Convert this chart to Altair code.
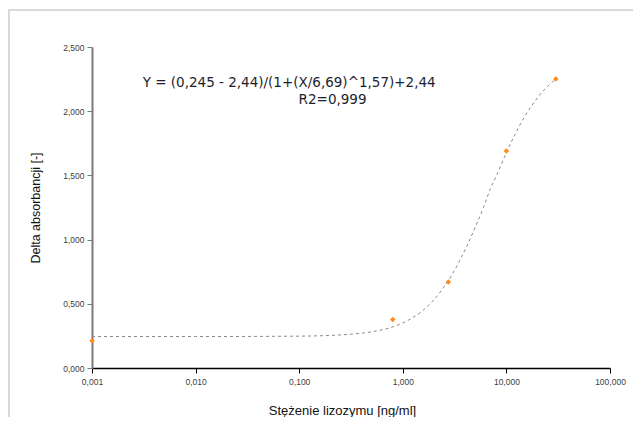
import altair as alt
import pandas as pd

# measured points
conc = [0.001, 0.8, 2.75, 10.0, 30.0]
absorb = [0.213, 0.377, 0.669, 1.69, 2.25]

# dashed fitted curve
curve_x = [0.001, 0.01, 0.1, 0.3, 0.5, 0.8, 1, 1.5, 2, 3, 4, 5, 6, 7, 8, 10, 12, 15, 20, 25, 30]
curve_y = [0.245, 0.245, 0.248, 0.262, 0.282, 0.32, 0.351, 0.437, 0.532, 0.73, 0.922,
           1.096, 1.249, 1.396, 1.496, 1.678, 1.813, 1.958, 2.106, 2.194, 2.25]

x_ticks = [0.001, 0.01, 0.1, 1, 10, 100]
y_ticks = [0, 0.5, 1.0, 1.5, 2.0, 2.5]

eq_text = ["Y = (0,245 - 2,44)/(1+(X/6,69)^1,57)+2,44", "R2=0,999"]
eq_x = [0.08, 0.21]
eq_y = [2.22, 2.085]

W, H = 518, 321
PAD = {"left": 84, "top": 39, "right": 23, "bottom": 49}

pts = pd.DataFrame({"x": conc, "y": absorb})
crv = pd.DataFrame({"x": curve_x, "y": curve_y})
ann = pd.DataFrame({"x": eq_x, "y": eq_y, "t": eq_text})

fmt = "replace(format(datum.value, '.3f'), '.', ',')"

xscale = alt.Scale(type="log", domain=[0.001, 100], nice=False)
yscale = alt.Scale(domain=[0, 2.5], nice=False)

xaxis = alt.Axis(values=x_ticks, labelExpr=fmt, title="Stężenie lizozymu [ng/ml]",
                 grid=False, domainColor="#000000", domainWidth=1.5, tickColor="#000000",
                 tickSize=5, labelFont="Liberation Sans", labelFontSize=8.5,
                 labelColor="#404040", labelPadding=4, labelFlush=False,
                 titleFont="Liberation Sans",
                 titleFontSize=13, titleFontWeight="normal", titleColor="#111111",
                 titleX=250, titleY=36)
yaxis = alt.Axis(values=y_ticks, labelExpr=fmt, title="Delta absorbancji [-]",
                 grid=False, domainColor="#7a7a7a", domainWidth=2, tickColor="#7a7a7a",
                 tickSize=5, labelFont="Liberation Sans", labelFontSize=8.5,
                 labelColor="#404040", labelPadding=3, labelFlush=False,
                 titleFont="Liberation Sans",
                 titleFontSize=12.5, titleFontWeight="normal", titleColor="#111111",
                 titlePadding=20)

line = alt.Chart(crv).mark_line(color="#8a8a8a", strokeDash=[3, 3], strokeWidth=1,
                                interpolate="monotone").encode(
    x=alt.X("x:Q", scale=xscale, axis=xaxis),
    y=alt.Y("y:Q", scale=yscale, axis=yaxis),
)

points = alt.Chart(pts).mark_point(shape="diamond", filled=True, size=30,
                                   color="#ff8c1a", opacity=1).encode(
    x=alt.X("x:Q", scale=xscale),
    y=alt.Y("y:Q", scale=yscale),
)

text = alt.Chart(ann).mark_text(font="DejaVu Sans", fontSize=13.5, color="#1e1e2e",
                                align="center", baseline="middle").encode(
    x=alt.X("x:Q", scale=xscale),
    y=alt.Y("y:Q", scale=yscale),
    text="t:N",
)

border_top = alt.Chart(pts).mark_rule(color="#d9d9d9", strokeWidth=2).encode(
    x=alt.value(-PAD["left"]), x2=alt.value(W + PAD["right"]),
    y=alt.value(-37),
)
border_left = alt.Chart(pts).mark_rule(color="#d9d9d9", strokeWidth=2).encode(
    x=alt.value(-PAD["left"] + 1), y=alt.value(-37), y2=alt.value(H + PAD["bottom"]),
)

chart = alt.layer(border_top, border_left, line, points, text).properties(
    width=W, height=H,
    padding=PAD,
    autosize=alt.AutoSizeParams(type="none"),
    background="white",
).configure_view(stroke=None)

chart.save("out.html", embed_options={"renderer": "svg", "actions": False})
